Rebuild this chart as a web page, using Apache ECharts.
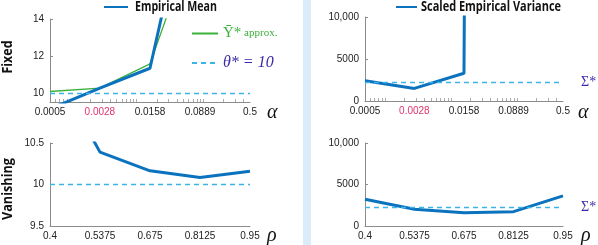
<!DOCTYPE html>
<html><head><meta charset="utf-8">
<script src="https://cdn.jsdelivr.net/npm/echarts@6/dist/echarts.min.js"></script>
<style>html,body{margin:0;padding:0;background:#fff}#c{width:598px;height:245px}</style>
</head><body><div id="c"></div>
<script>
// ---- data ----
const alphaTicks = [0.0005, 0.0028, 0.0158, 0.0889, 0.5];
const alphaTickLabels = ['0.0005', '0.0028', '0.0158', '0.0889', '0.5'];
const highlightedAlphaLabel = '0.0028';
const meanFixed = [9.13, 10.25, 11.33, 23.4, 45];
const approxFixed = [10.07, 10.25, 11.57, 19.2, 40];
const varFixed = [2400, 1500, 3300, 1000000, 2000000];
const thetaStar = 10;
const sigmaStar = 2200;
const rhoTicks = [0.4, 0.5375, 0.675, 0.8125, 0.95];
const rhoTickLabels = ['0.4', '0.5375', '0.675', '0.8125', '0.95'];
const meanVanish = [11.48, 10.39, 10.165, 10.085, 10.16];
const varVanish = [3230, 2020, 1610, 1730, 3630];
const fixedMeanYTicks = [10, 12, 14];
const fixedMeanYRange = [9.5, 14];
const vanishMeanYTicks = [9.5, 10, 10.5];
const vanishMeanYTickLabels = ['9.5', '10', '10.5'];
const varYTicks = [0, 5000, 10000];
const varYTickLabels = ['0', '5000', '10,000'];
const meanTitle = 'Empirical Mean';
const varTitle = 'Scaled Empirical Variance';
const rowTitles = ['Fixed', 'Vanishing'];
const minorAlphaTicks = [];
[0.0001, 0.001, 0.01, 0.1].forEach(function (d) {
  for (let k = 1; k <= 9; k++) {
    const v = +(k * d).toPrecision(3);
    if (v > alphaTicks[0] && v < alphaTicks[alphaTicks.length - 1]) minorAlphaTicks.push(v);
  }
});

// ---- styles ----
const BLUE = '#0b72bd', GREEN = '#3bb03b', CYAN = '#3cb4e6', PURPLE = '#3a2aa8', PINK = '#e3346b';
const AX = '#8c8c8c';
const TITLE_FONT = "bold 15px 'Open Sans', 'Liberation Sans', sans-serif";
const lg = Math.log10;
const mctx = document.createElement('canvas').getContext('2d');
function fitScale(text, font, width) { mctx.font = font; return width / mctx.measureText(text).width; }

function logXAxis(grid) {
  return {
    type: 'value', gridIndex: grid,
    min: lg(alphaTicks[0]), max: lg(alphaTicks[alphaTicks.length - 1]),
    axisLine: { show: true, lineStyle: { color: AX, width: 1 } },
    splitLine: { show: false },
    axisTick: { show: true, inside: true, length: 3, lineStyle: { color: '#aaa' }, customValues: minorAlphaTicks.map(lg) },
    axisLabel: {
      customValues: alphaTicks.map(lg), margin: 5, fontSize: 10, color: '#222', fontFamily: 'Liberation Sans',
      formatter: function (v) {
        let best = 0;
        alphaTicks.forEach(function (t, i) { if (Math.abs(lg(t) - v) < Math.abs(lg(alphaTicks[best]) - v)) best = i; });
        const s = alphaTickLabels[best];
        return s === highlightedAlphaLabel ? '{p|' + s + '}' : s;
      },
      rich: { p: { color: PINK, fontSize: 10, fontFamily: 'Liberation Sans' } }
    }
  };
}
function rhoXAxis(grid) {
  return {
    type: 'value', gridIndex: grid, min: rhoTicks[0], max: rhoTicks[rhoTicks.length - 1],
    axisLine: { show: true, lineStyle: { color: AX, width: 1 } },
    splitLine: { show: false },
    axisTick: { show: false },
    axisLabel: {
      customValues: rhoTicks, margin: 5, fontSize: 10, color: '#222', fontFamily: 'Liberation Sans',
      formatter: function (v) {
        let best = 0;
        rhoTicks.forEach(function (t, i) { if (Math.abs(t - v) < Math.abs(rhoTicks[best] - v)) best = i; });
        return rhoTickLabels[best];
      }
    }
  };
}
function yAxis(grid, range, ticks, labels) {
  return {
    type: 'value', gridIndex: grid, min: range[0], max: range[1],
    axisLine: { show: true, lineStyle: { color: AX, width: 1 } },
    splitLine: { show: false },
    axisTick: { show: true, inside: true, length: 3, lineStyle: { color: AX }, customValues: ticks },
    axisLabel: {
      customValues: ticks, margin: 6, fontSize: 10, color: '#222', fontFamily: 'Liberation Sans',
      formatter: function (v) {
        let best = 0;
        ticks.forEach(function (t, i) { if (Math.abs(t - v) < Math.abs(ticks[best] - v)) best = i; });
        return labels[best];
      }
    }
  };
}
function dashedMark(value, label) {
  return {
    silent: true, symbol: ['none', 'none'], animation: false,
    lineStyle: { color: CYAN, type: [5, 4], width: 1.3 },
    label: label ? { show: true, position: 'end', distance: 18, formatter: label, color: PURPLE, fontSize: 14, fontFamily: 'Liberation Serif' } : { show: false },
    emphasis: { disabled: true },
    data: [{ yAxis: value }]
  };
}
const hideSymbol = { opacity: 0, borderWidth: 0 };

const option = {
  animation: false,
  grid: [
    { left: 50, top: 19, width: 200, height: 83 },
    { left: 365, top: 17, width: 198, height: 84 },
    { left: 50, top: 143, width: 200, height: 83 },
    { left: 365, top: 143, width: 198, height: 83 }
  ],
  xAxis: [logXAxis(0), logXAxis(1), rhoXAxis(2), rhoXAxis(3)],
  yAxis: [
    yAxis(0, fixedMeanYRange, fixedMeanYTicks, fixedMeanYTicks.map(String)),
    yAxis(1, [varYTicks[0], varYTicks[2]], varYTicks, varYTickLabels),
    yAxis(2, [vanishMeanYTicks[0], vanishMeanYTicks[2]], vanishMeanYTicks, vanishMeanYTickLabels),
    yAxis(3, [varYTicks[0], varYTicks[2]], varYTicks, varYTickLabels)
  ],
  legend: [
    { data: [meanTitle], left: 103, top: 0, itemWidth: 24, itemHeight: 14, padding: 0, formatter: function () { return ''; }, selectedMode: false, itemStyle: hideSymbol },
    { data: [varTitle], left: 395, top: 0, itemWidth: 21, itemHeight: 14, padding: 0, formatter: function () { return ''; }, selectedMode: false, itemStyle: hideSymbol },
    {
      data: ['Ῡ* approx.', 'θ* = 10'], orient: 'vertical', left: 186, top: 21, itemWidth: 26, itemHeight: 14, itemGap: 14,
      selectedMode: false, itemStyle: hideSymbol,
      formatter: function (n) {
        return n === 'θ* = 10' ? '{t|θ* = 10}' : '{u|Ῡ*}{a| approx.}';
      },
      textStyle: {
        rich: {
          u: { color: GREEN, fontSize: 15, fontFamily: 'Liberation Serif' },
          a: { color: GREEN, fontSize: 11, fontFamily: 'Liberation Serif' },
          t: { color: PURPLE, fontSize: 16, fontStyle: 'italic', fontFamily: 'Liberation Serif' }
        }
      }
    }
  ],
  series: [
    { name: 'Ῡ* approx.', type: 'line', xAxisIndex: 0, yAxisIndex: 0, symbol: 'none', color: GREEN,
      lineStyle: { color: GREEN, width: 1.3 }, data: alphaTicks.map(function (a, i) { return [lg(a), approxFixed[i]]; }) },
    { name: 'θ* = 10', type: 'line', xAxisIndex: 0, yAxisIndex: 0, symbol: 'none', color: CYAN,
      lineStyle: { color: CYAN, width: 1.3, type: [5, 4] }, data: [], markLine: dashedMark(thetaStar) },
    { name: meanTitle, type: 'line', xAxisIndex: 0, yAxisIndex: 0, symbol: 'none', color: BLUE,
      lineStyle: { color: BLUE, width: 3 }, data: alphaTicks.map(function (a, i) { return [lg(a), meanFixed[i]]; }) },
    { name: varTitle, type: 'line', xAxisIndex: 1, yAxisIndex: 1, symbol: 'none', color: BLUE,
      lineStyle: { color: BLUE, width: 3 }, data: alphaTicks.map(function (a, i) { return [lg(a), varFixed[i]]; }),
      markLine: dashedMark(sigmaStar, 'Σ*') },
    { name: meanTitle, type: 'line', xAxisIndex: 2, yAxisIndex: 2, symbol: 'none', color: BLUE,
      lineStyle: { color: BLUE, width: 3 }, data: rhoTicks.map(function (r, i) { return [r, meanVanish[i]]; }),
      markLine: dashedMark(thetaStar) },
    { name: varTitle, type: 'line', xAxisIndex: 3, yAxisIndex: 3, symbol: 'none', color: BLUE,
      lineStyle: { color: BLUE, width: 3 }, data: rhoTicks.map(function (r, i) { return [r, varVanish[i]]; }),
      markLine: dashedMark(sigmaStar, 'Σ*') }
  ],
  graphic: [
    { type: 'rect', left: 303, top: 0, shape: { width: 8, height: 245 }, style: { fill: '#d9ecf9' }, silent: true },
    { type: 'text', x: 135, y: 7, scaleX: fitScale(meanTitle, TITLE_FONT, 82), style: { text: meanTitle, fill: '#111', font: TITLE_FONT, verticalAlign: 'middle' } },
    { type: 'text', x: 421, y: 7, scaleX: fitScale(varTitle, TITLE_FONT, 140), style: { text: varTitle, fill: '#111', font: TITLE_FONT, verticalAlign: 'middle' } },
    { type: 'text', x: 8, y: 57, rotation: Math.PI / 2, scaleX: fitScale(rowTitles[0], TITLE_FONT, 33), style: { text: rowTitles[0], fill: '#111', font: TITLE_FONT, align: 'center', verticalAlign: 'middle' } },
    { type: 'text', x: 8, y: 189, rotation: Math.PI / 2, scaleX: fitScale(rowTitles[1], TITLE_FONT, 62), style: { text: rowTitles[1], fill: '#111', font: TITLE_FONT, align: 'center', verticalAlign: 'middle' } },
    { type: 'text', x: 267, y: 113, style: { text: 'α', fill: '#111', font: 'italic 20px "Liberation Serif"', verticalAlign: 'middle' } },
    { type: 'text', x: 578, y: 113, style: { text: 'α', fill: '#111', font: 'italic 20px "Liberation Serif"', verticalAlign: 'middle' } },
    { type: 'text', x: 267, y: 236, style: { text: 'ρ', fill: '#111', font: 'italic 20px "Liberation Serif"', verticalAlign: 'middle' } },
    { type: 'text', x: 581, y: 236, style: { text: 'ρ', fill: '#111', font: 'italic 20px "Liberation Serif"', verticalAlign: 'middle' } }
  ]
};
const chart = echarts.init(document.getElementById('c'), null, { renderer: 'canvas' });
chart.setOption(option);
</script></body></html>
